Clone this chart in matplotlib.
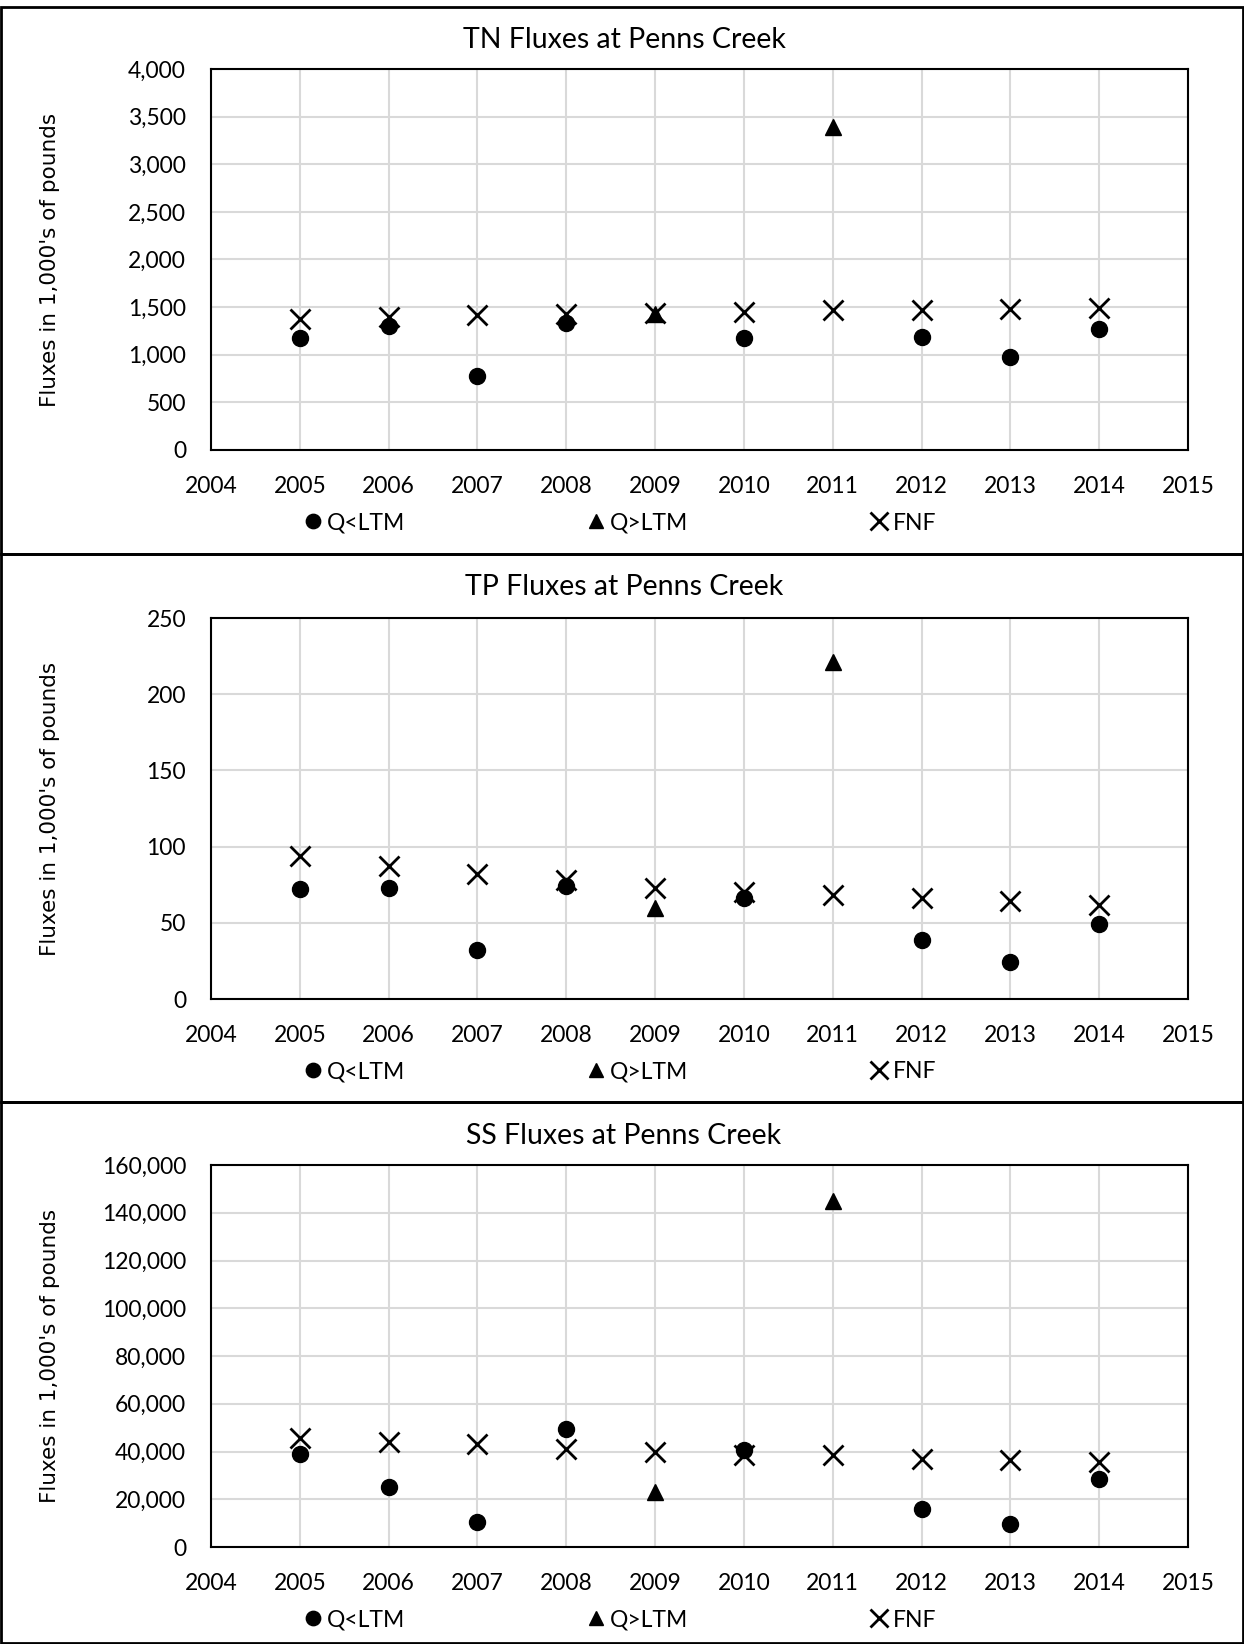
import matplotlib
matplotlib.use("Agg")
import matplotlib.pyplot as plt
from matplotlib.patches import Rectangle
from matplotlib.ticker import FuncFormatter

# Data (fluxes in 1,000's of pounds)
years = [2005, 2006, 2007, 2008, 2009, 2010, 2011, 2012, 2013, 2014]

tn_low_years = [2005, 2006, 2007, 2008, 2010, 2012, 2013, 2014]
tn_low = [1180, 1300, 780, 1330, 1175, 1190, 975, 1270]
tn_high_years = [2009, 2011]
tn_high = [1430, 3390]
tn_fnf = [1380, 1400, 1420, 1430, 1440, 1450, 1465, 1470, 1480, 1490]

tp_low_years = [2005, 2006, 2007, 2008, 2010, 2012, 2013, 2014]
tp_low = [72, 73, 32, 74, 66, 39, 24, 49]
tp_high_years = [2009, 2011]
tp_high = [60, 221]
tp_fnf = [94, 87, 82, 78, 73, 70, 68, 66, 64, 62]

ss_low_years = [2005, 2006, 2007, 2008, 2010, 2012, 2013, 2014]
ss_low = [39000, 25000, 10500, 49500, 40500, 16000, 9500, 28500]
ss_high_years = [2009, 2011]
ss_high = [23000, 145000]
ss_fnf = [45500, 44000, 43000, 41000, 40000, 38500, 38500, 37000, 36500, 35500]

panels = [
    ("TN Fluxes at Penns Creek", tn_low_years, tn_low, tn_high_years, tn_high, tn_fnf, 4000, 500),
    ("TP Fluxes at Penns Creek", tp_low_years, tp_low, tp_high_years, tp_high, tp_fnf, 250, 50),
    ("SS Fluxes at Penns Creek", ss_low_years, ss_low, ss_high_years, ss_high, ss_fnf, 160000, 20000),
]

W, H = 1244, 1644
fig = plt.figure(figsize=(W / 100, H / 100), dpi=100)
plt.rcParams["font.family"] = ["Lato", "DejaVu Sans"]

# pixel layout (top, bottom of plot area, panel top, panel bottom, title y)
layout = [
    (69, 450, 7, 554, 40),
    (618, 999, 554, 1102, 587),
    (1165, 1547, 1102, 1643, 1136),
]
left_px, right_px = 211, 1188

for (title, lx, ly, hx, hy, fnf, ymax, ystep), (top, bot, ptop, pbot, ty) in zip(panels, layout):
    ax = fig.add_axes([left_px / W, 1 - bot / H, (right_px - left_px) / W, (bot - top) / H])
    ax.set_xlim(2004, 2015)
    ax.set_ylim(0, ymax)
    ax.set_xticks(range(2004, 2016))
    ax.set_yticks(range(0, ymax + 1, ystep))
    ax.yaxis.set_major_formatter(FuncFormatter(lambda v, p: f"{int(v):,}"))
    ax.grid(True, color="#d9d9d9", linewidth=1.5)
    ax.set_axisbelow(True)
    for s in ax.spines.values():
        s.set_color("black")
        s.set_linewidth(1.5)
    ax.tick_params(length=0, labelsize=16.5)
    ax.tick_params(axis="x", pad=19)
    ax.tick_params(axis="y", pad=18)

    ax.plot(lx, ly, "o", color="black", markersize=11.5, linestyle="none", label="Q<LTM")
    ax.plot(hx, hy, "^", color="black", markersize=11.5, linestyle="none", label="Q>LTM")
    ax.plot(years, fnf, "x", color="black", markersize=14, markeredgewidth=2,
            linestyle="none", label="FNF")

    ax.set_ylabel("Fluxes in 1,000's of pounds", family=["DejaVu Sans"], fontsize=15.5)
    ax.yaxis.set_label_coords(-(left_px - 60) / (right_px - left_px), 0.5)

    fig.text(624 / W, 1 - ty / H, title, ha="center", va="center", fontsize=20.5)

    ax.legend(loc="center left", bbox_to_anchor=(292 / W, 1 - (bot + 73) / H),
              bbox_transform=fig.transFigure, ncol=3, frameon=False, fontsize=16.5,
              handlelength=0.8, handletextpad=0.2, columnspacing=7.95, borderpad=0,
              markerscale=0.9)

    fig.add_artist(Rectangle((1 / W, 1 - pbot / H), (W - 2) / W, (pbot - ptop) / H,
                             transform=fig.transFigure, fill=False,
                             edgecolor="black", linewidth=2))

fig.savefig("out.png", dpi=100)
